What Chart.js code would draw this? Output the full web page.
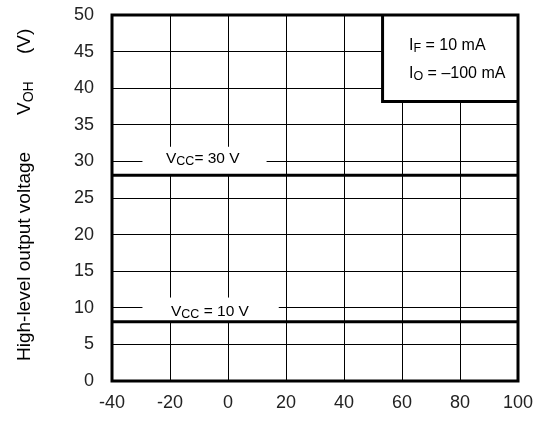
<!DOCTYPE html>
<html>
<head>
<meta charset="utf-8">
<script src="https://cdn.jsdelivr.net/npm/chart.js@4.4.0/dist/chart.umd.min.js"></script>
<style>
html, body { margin: 0; padding: 0; background: #fff; }
</style>
</head>
<body>
<canvas id="graph" width="541" height="421"></canvas>
<script>
// ambient temperature (deg C) at both ends of the curves
const ambientTemp = [-40, 100];
// high-level output voltage VOH (V), one flat curve per supply voltage
const vohVcc30 = [28.1, 28.1];
const vohVcc10 = [8.1, 8.1];
// tick labels
const xTicks = [-40, -20, 0, 20, 40, 60, 80, 100];
const yTicks = [0, 5, 10, 15, 20, 25, 30, 35, 40, 45, 50];

const FONT = "'Liberation Sans', Arial, sans-serif";

//draw a row of text pieces [text, size, dy] one after the other
function drawRich(ctx, x, y, pieces) {
    let cx = x;
    for (const [t, size, dy] of pieces) {
        ctx.font = size + "px " + FONT;
        ctx.fillText(t, cx, y + dy);
        cx += ctx.measureText(t).width;
    }
}

//white boxes behind the curve labels and the condition box
const notesPlugin = {
    id: "notes",
    beforeDatasetsDraw(chart) {
        const ctx = chart.ctx, xs = chart.scales.x, ys = chart.scales.y;
        ctx.save();
        ctx.fillStyle = "#fff";
        // Vcc = 30 V label
        ctx.fillRect(xs.getPixelForValue(-29.5), ys.getPixelForValue(32.0),
            xs.getPixelForValue(13.3) - xs.getPixelForValue(-29.5),
            ys.getPixelForValue(vohVcc30[0]) - ys.getPixelForValue(32.0));
        // Vcc = 10 V label
        ctx.fillRect(xs.getPixelForValue(-29.5), ys.getPixelForValue(11.4),
            xs.getPixelForValue(17.5) - xs.getPixelForValue(-29.5),
            ys.getPixelForValue(vohVcc10[0]) - ys.getPixelForValue(11.4));
        // condition box
        const bx = xs.getPixelForValue(53.3), by = ys.getPixelForValue(38.2);
        ctx.fillRect(bx, chart.chartArea.top, chart.chartArea.right - bx, by - chart.chartArea.top);
        ctx.restore();
    },
    afterDatasetsDraw(chart) {
        const ctx = chart.ctx, a = chart.chartArea, xs = chart.scales.x, ys = chart.scales.y;
        ctx.save();
        ctx.strokeStyle = "#000";
        ctx.lineWidth = 3;
        ctx.strokeRect(a.left, a.top, a.right - a.left, a.bottom - a.top);
        const bx = xs.getPixelForValue(53.3), by = ys.getPixelForValue(38.2);
        ctx.beginPath();
        ctx.moveTo(bx, a.top);
        ctx.lineTo(bx, by);
        ctx.lineTo(a.right, by);
        ctx.stroke();

        ctx.fillStyle = "#000";
        ctx.textBaseline = "alphabetic";
        drawRich(ctx, 166, 163, [["V", 15.5, 0], ["CC", 12.5, 2], ["= 30 V", 15.5, 0]]);
        drawRich(ctx, 171, 316, [["V", 15.5, 0], ["CC", 12.5, 2], [" = 10 V", 15.5, 0]]);
        drawRich(ctx, 409, 50, [["I", 16, 0], ["F", 12.5, 2], [" = 10 mA", 16, 0]]);
        drawRich(ctx, 409, 78, [["I", 16, 0], ["O", 12.5, 2], [" = \u2013100 mA", 16, 0]]);

        // y axis title
        ctx.translate(30, 0);
        ctx.rotate(-Math.PI / 2);
        drawRich(ctx, -361, 0, [["High-level output voltage", 19, 0]]);
        drawRich(ctx, -115, 0, [["V", 19, 0], ["OH", 14, 3]]);
        drawRich(ctx, -54, 0, [["(V)", 19, 0]]);
        ctx.restore();
    }
};

const ctx = document.getElementById("graph").getContext("2d");
const chart = new Chart(ctx, {
    type: "line",
    data: {
        datasets: [
            {
                label: "VCC = 30 V",
                data: ambientTemp.map((t, i) => ({ x: t, y: vohVcc30[i] })),
                borderColor: "#000",
                borderWidth: 3,
                pointRadius: 0
            },
            {
                label: "VCC = 10 V",
                data: ambientTemp.map((t, i) => ({ x: t, y: vohVcc10[i] })),
                borderColor: "#000",
                borderWidth: 3,
                pointRadius: 0
            }
        ]
    },
    options: {
        responsive: false,
        animation: false,
        layout: { autoPadding: false, padding: { top: 15, right: 23, left: 0, bottom: 0 } },
        plugins: { legend: { display: false }, tooltip: { enabled: false } },
        scales: {
            x: {
                type: "linear",
                min: xTicks[0],
                max: xTicks[xTicks.length - 1],
                afterBuildTicks: s => { s.ticks = xTicks.map(v => ({ value: v })); },
                afterFit: s => { s.height = 40; },
                // invisible tick marks keep the labels away from the frame
                grid: { color: "#000", lineWidth: 1, drawTicks: true, tickLength: 11, tickColor: "rgba(0,0,0,0)" },
                border: { display: false },
                ticks: { padding: 0, color: "#222", font: { family: FONT, size: 18 } }
            },
            y: {
                min: yTicks[0],
                max: yTicks[yTicks.length - 1],
                afterBuildTicks: s => { s.ticks = yTicks.map(v => ({ value: v })); },
                afterFit: s => { s.width = 112; },
                grid: { color: "#000", lineWidth: 1, drawTicks: true, tickLength: 18, tickColor: "rgba(0,0,0,0)" },
                border: { display: false },
                ticks: { padding: 0, color: "#222", font: { family: FONT, size: 18 } }
            }
        }
    },
    plugins: [notesPlugin]
});
</script>
</body>
</html>
